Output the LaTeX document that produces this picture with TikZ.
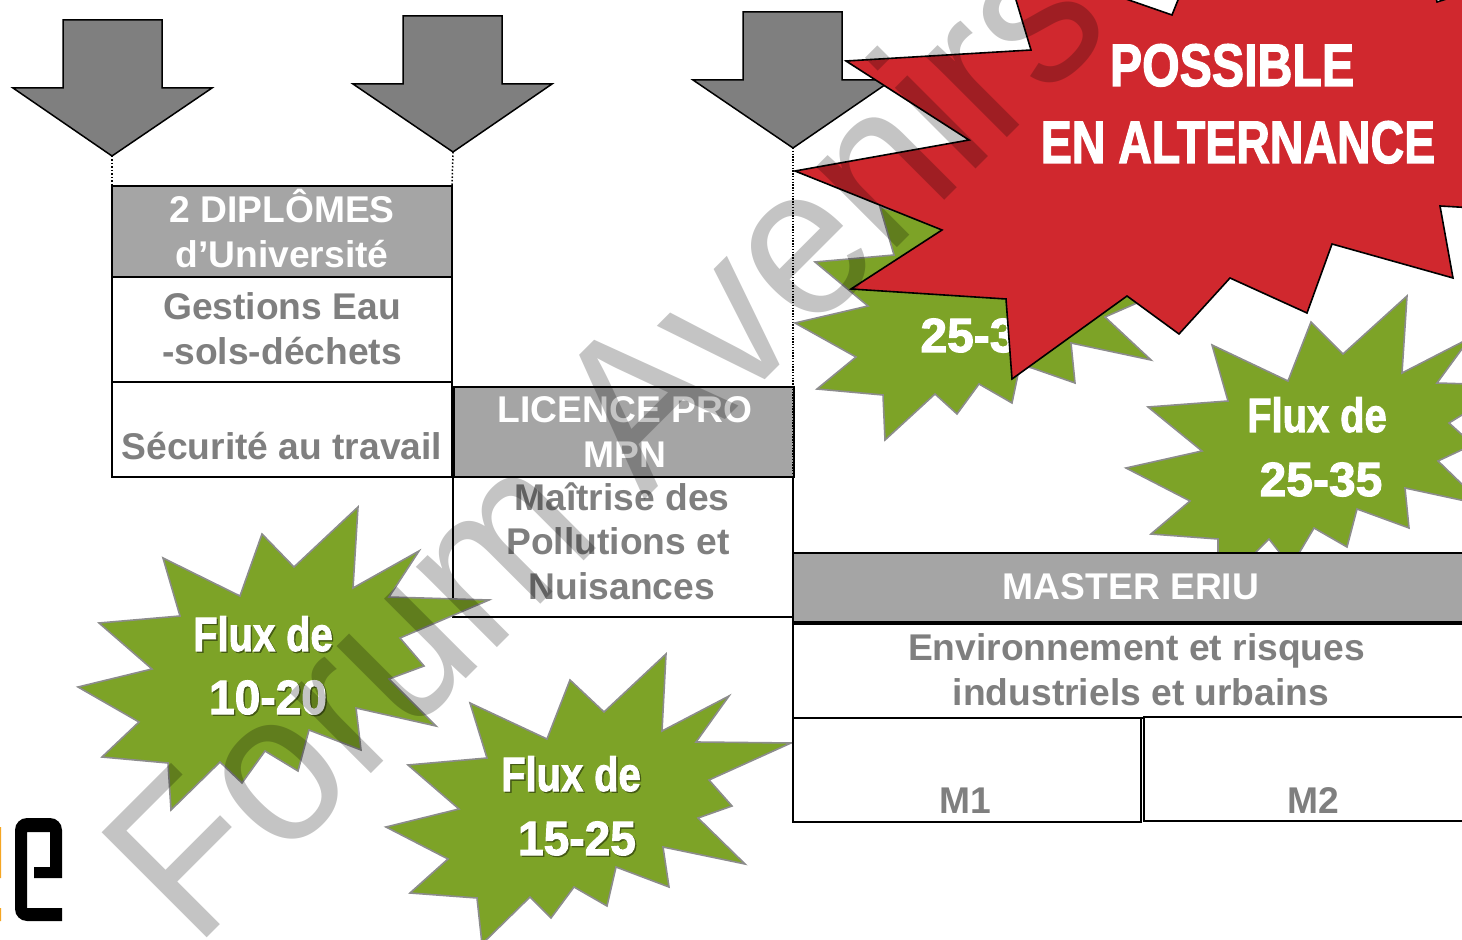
\documentclass[tikz,border=0pt]{standalone}
\usepackage{fontspec}
\usepackage{graphicx}
\setmainfont{Liberation Sans}
\newfontfamily\heavy[BoldFeatures={FakeBold=2.2}]{Liberation Sans}
\definecolor{arrowgray}{HTML}{7F7F7F}
\definecolor{headgray}{HTML}{A5A5A5}
\definecolor{txtgray}{HTML}{7F7F7F}
\definecolor{stargreen}{HTML}{7DA327}
\definecolor{starred}{HTML}{D0282E}
\definecolor{staredge}{HTML}{8C8C8C}
\definecolor{logoorange}{HTML}{F5A623}
\newcommand\nar[2]{\scalebox{#1}[1]{#2}}
\newcommand\shad[2]{\rlap{\hspace{.7pt}\raisebox{-.7pt}{\color{black!45!stargreen}\scalebox{#1}[1]{#2}}}\scalebox{#1}[1]{#2}}
\tikzset{
  bigarrow/.style={draw=black,fill=arrowgray,line width=.75pt,line join=miter},
  boxw/.style={draw=black,fill=white,line width=.8pt,anchor=north west,inner sep=0pt,outer sep=0pt},
  boxh/.style={draw=black,fill=headgray,line width=.8pt,anchor=north west,inner sep=0pt,outer sep=0pt},
  guide/.style={densely dotted,line width=.75pt,black},
  grn/.style={draw=staredge,fill=stargreen,line width=.8pt,line join=miter},
  rdd/.style={draw=black,fill=starred,line width=.8pt,line join=miter},
  lbl/.style={anchor=base,inner sep=0pt,font=\bfseries\fontsize{18.6}{22}\selectfont,text=txtgray},
  hlbl/.style={lbl,text=white},
  starlbl/.style={anchor=base,inner sep=0pt,font=\heavy\bfseries\fontsize{24}{28}\selectfont,text=white},
  bigstarlbl/.style={anchor=base,inner sep=0pt,font=\heavy\bfseries\fontsize{30}{34}\selectfont,text=white},
}
\begin{document}
\begin{tikzpicture}[x=.5pt,y=-.5pt]
\useasboundingbox (0,0) rectangle (1462,940);
\clip (0,0) rectangle (1462,940);
\fill[white] (0,0) rectangle (1462,940);

% arrows
\draw[bigarrow] (63,20)--(162,20)--(162,88)--(212,88)--(112,156)--(13,88)--(63,88)--cycle;
\draw[bigarrow] (403,16)--(502,16)--(502,84)--(552,84)--(453,152)--(353,84)--(403,84)--cycle;
\draw[bigarrow] (743,12)--(842,12)--(842,80)--(892,80)--(793,148)--(693,80)--(743,80)--cycle;
\coordinate (tipa) at (112,156);
\coordinate (tipb) at (453,152);
\coordinate (tipc) at (793,148);

% DU column
\node[boxh,minimum width=170pt,minimum height=45.5pt] (dip) at (112,186) {};
\node[boxw,minimum width=170pt,minimum height=52.5pt] (ges) at (112,277) {};
\node[boxw,minimum width=170pt,minimum height=47.5pt] (sec) at (112,382) {};
% licence column
\node[boxw,minimum width=170pt,minimum height=70pt] (mai) at (453,477) {};
\node[boxh,minimum width=170pt,minimum height=45pt] (lic) at (454,387) {};
\draw[guide] (tipa) -- (dip.north west);
\draw[guide] (tipb) -- (dip.north east);
\coordinate (mastertl) at (793,553);
\draw[line width=1pt,dash pattern=on .7pt off .7pt,black] (tipc) -- (mastertl);

% green stars
\draw[grn] (1407,296)--(1402,373)--(1470,338)--(1437,383)--(1470,384)--(1470,410)--(1449,423)--(1470,442)--(1470,446)--(1438,461)--(1470,492)--(1470,502)--(1405,488)--(1409,528)--(1357,509)--(1347,547)--(1314,528)--(1295,560)--(1280,553)--(1269,539)--(1255,553)--(1218,560)--(1218,539)--(1151,534)--(1190,501)--(1126,468)--(1202,451)--(1148,407)--(1228,401)--(1212,345)--(1288,381)--(1311,322)--(1343,354)--cycle;
\draw[grn] (880,207)--(894,255)--(815,262)--(868,306)--(795,323)--(856,357)--(817,389)--(883,395)--(885,440)--(935,394)--(957,414)--(979,384)--(1012,403)--(1020,365)--(1032,368)--(1075,383)--(1071,343)--(1151,360)--(1105,317)--(1137,303)--(1080,260)--(1000,240)--cycle;

\draw[grn] (358,507)--(353,588)--(419,551)--(389,597)--(489,600)--(400,638)--(424,666)--(389,679)--(436,726)--(356,708)--(361,750)--(309,730)--(298,771)--(265,751)--(242,783)--(220,762)--(171,810)--(168,763)--(102,757)--(139,722)--(78,687)--(152,669)--(99,623)--(180,616)--(163,558)--(240,596)--(262,534)--(294,567)--cycle;
\draw[grn] (666,654)--(662,731)--(729,696)--(696,742)--(791,743)--(709,780)--(732,806)--(698,818)--(745,864)--(663,847)--(669,887)--(616,867)--(607,906)--(574,887)--(551,918)--(530,897)--(482,944)--(477,898)--(410,893)--(448,859)--(386,827)--(459,809)--(408,765)--(487,758)--(470,703)--(547,739)--(570,680)--(604,712)--cycle;

\node[starlbl] (t25a) at (968.5,352) {25-3};

% red star
\draw[rdd] (1031,50)--(1013,-10)--(1100,-10)--(1172,15)--(1182,-10)--(1434,-10)--(1437,2)--(1475,-10)--(1475,208)--(1440,206)--(1453,278)--(1332,244)--(1307,313)--(1230,278)--(1179,334)--(1127,296)--(1012,379)--(1006,299)--(851,289)--(942,230)--(795,171)--(969,140)--(846,61)--cycle;

% master column
\node[boxh,minimum width=340pt,minimum height=34.5pt] (mas) at (793,553) {};
\node[boxw,minimum width=340pt,minimum height=47pt] (env) at (793,624) {};
\node[boxw,minimum width=174pt,minimum height=52pt] (mtwo) at (1144,717) {};
\node[boxw,minimum width=174pt,minimum height=52pt] (mone) at (793,718) {};

% logo fragment
\fill[logoorange] (0,827) rectangle (1,878) (0,908) rectangle (1,921);
\fill[black] (15,830) to[out=90,in=180] (27,818) -- (50,818) to[out=0,in=90] (62,830) -- (62,878) -- (34,878) -- (34,867) -- (50,867) -- (50,832) -- (27,832) -- (27,908) -- (62,908) -- (62,921) -- (27,921) to[out=180,in=-90] (15,909) -- cycle;

% labels
\node[hlbl] (t1a) at (282,223) {2 DIPLÔMES};
\node[hlbl] (t1b) at (282,268) {d’Université};
\node[lbl] (t2a) at (282,319.5) {Gestions Eau};
\node[lbl] (t2b) at (282,364.5) {-sols-déchets};
\node[lbl] (t3) at (282,459.5) {Sécurité au travail};
\node[hlbl] (t4a) at (625,423) {LICENCE PRO};
\node[hlbl] (t4b) at (625,468) {MPN};
\node[lbl] (t5a) at (622,511) {Maîtrise des};
\node[lbl] (t5b) at (618,555) {Pollutions et};
\node[lbl] (t5c) at (622,600) {Nuisances};
\node[hlbl] (t6) at (1131,600) {MASTER ERIU};
\node[lbl] (t7a) at (1136.5,660.5) {Environnement et risques};
\node[lbl] (t7b) at (1141,705.5) {industriels et urbains};
\node[lbl] (t8) at (965,813) {M1};
\node[lbl] (t9) at (1313,813) {M2};

\node[starlbl] (f1a) at (263,651) {\shad{.83}{Flux de}};
\node[starlbl] (f1b) at (268,714) {\shad{.96}{10-20}};
\node[starlbl] (f2a) at (571,791) {\shad{.83}{Flux de}};
\node[starlbl] (f2b) at (577,855) {\shad{.96}{15-25}};
\node[starlbl] (f3a) at (1317,432) {\nar{.83}{Flux de}};
\node[starlbl] (f3b) at (1321,496) {25-35};
\node[bigstarlbl] (p1) at (1232,86) {\nar{.805}{POSSIBLE}};
\node[bigstarlbl] (p2) at (1238,163) {\nar{.775}{EN ALTERNANCE}};

% watermark
\node[anchor=base west,rotate=45,inner sep=0pt,text=black,text opacity=.23,font=\fontsize{108}{108}\selectfont] (wm) at (195,950) {\scalebox{.93}[1]{Forum Avenirs}};
\end{tikzpicture}
\end{document}
